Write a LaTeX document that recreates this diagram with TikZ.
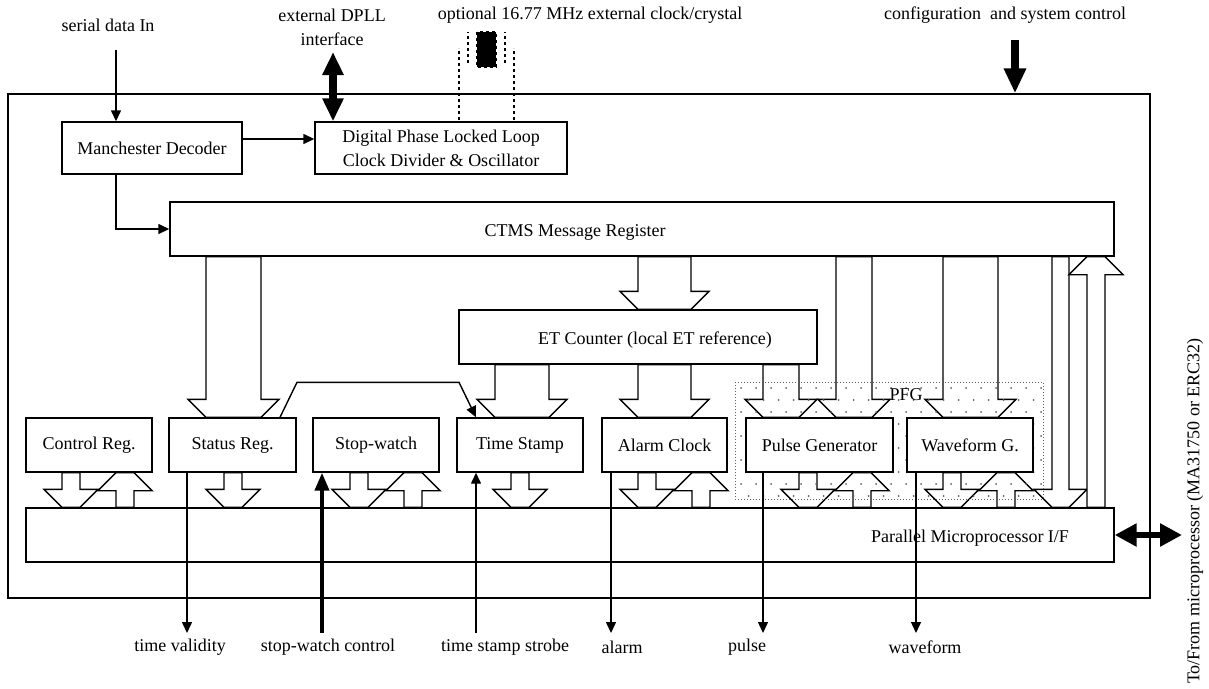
\documentclass[tikz,border=0pt]{standalone}
\usepackage{fontspec}
\setmainfont{Liberation Serif}
\usetikzlibrary{arrows.meta, positioning, calc, backgrounds}
\definecolor{pfggray}{RGB}{95,95,95}

% wide block arrow: left x, right x, from, to (head at the "to" end)
\newcommand{\fatarrow}[4]{%
  \draw[fat] let \p1=(#3), \p2=(#4), \n1={ifthenelse(\y2<\y1,-18,18)} in
    ({#1pt},\y1) -- ({#1pt},{\y2-(\n1)}) -- ({#1pt-18pt},{\y2-(\n1)}) -- ({#1pt},\y2)
    -- ({#2pt},\y2) -- ({#2pt+18pt},{\y2-(\n1)}) -- ({#2pt},{\y2-(\n1)}) -- ({#2pt},\y1) -- cycle;}

\begin{document}
\begin{tikzpicture}[x=1pt, y=-1pt, line width=1.4pt,
    font=\fontsize{18}{24}\selectfont,
    blk/.style={draw, fill=white, inner sep=0pt, minimum height=54pt},
    fat/.style={draw=black, fill=white, line width=1.4pt, line join=miter},
    sig/.style={-{Triangle[length=11pt,width=10pt]}},
    bigsig/.style={line width=4pt, -{Triangle[length=18pt,width=14pt]}},
    bus/.style={line width=8pt, {Triangle[length=23pt,width=20pt]}-{Triangle[length=23pt,width=20pt]}},
    xtal/.style={dash pattern=on 3pt off 3pt}]
    \useasboundingbox (0,0) rectangle (1209,688);

    % Chip outline
    \node[draw, inner sep=0pt, minimum width=1142pt, minimum height=504pt] (chip) at (579,346) {};

    % Outside texts
    \node (sertxt) at (108,25) {serial data In};
    \node[align=center] (dplltxt) at (332,27) {external DPLL\\interface};
    \node (xtaltxt) at (590,15) {optional 16.77 MHz external clock/crystal};
    \node (cfgtxt) at (1005,15) {configuration~ and system control};

    % Blocks
    \node[blk, minimum width=180pt, minimum height=52pt] (man) at (152,148) {Manchester Decoder};
    \node[blk, minimum width=252pt, minimum height=52pt, align=center] (dpll) at (441,148) {Digital Phase Locked Loop\\Clock Divider \& Oscillator};
    \node[blk, minimum width=944pt] (ctms) at (642,229) {};
    \node (ctmstxt) at (575,232) {CTMS Message Register};
    \node[blk, minimum width=358pt] (etc) at (638,337) {};
    \node (etctxt) at (655,340) {ET Counter (local ET reference)};
    \node[blk, minimum width=126pt] (ctrl) at (89,445) {Control Reg.};
    \node[blk, minimum width=127pt] (status) at (232.5,445) {Status Reg.};
    \node[blk, minimum width=126pt] (stopw) at (376,445) {Stop-watch};
    \node[blk, minimum width=126pt] (tstamp) at (520,445) {Time Stamp};
    \node[blk, minimum width=125pt] (alarm) at (664.5,445) {Alarm Clock};
    \node[blk, minimum width=147pt] (pulse) at (819.5,445) {Pulse Generator};
    \node[blk, minimum width=126pt] (wave) at (970,445) {Waveform G.};
    \node[blk, minimum width=1088pt] (pif) at (570,535) {};
    \node (piftxt) at (970,538) {Parallel Microprocessor I/F};

    \begin{scope}[on background layer]
    % Block arrows between the registers
    \fatarrow{206}{261}{ctms.south}{status.north}
    \fatarrow{638}{691}{ctms.south}{etc.north}
    \fatarrow{495}{549}{etc.south}{tstamp.north}
    \fatarrow{638}{691}{etc.south}{alarm.north}
    \fatarrow{763}{799}{etc.south}{pulse.north}
    \fatarrow{836}{872}{ctms.south}{pulse.north}
    \fatarrow{943}{998}{ctms.south}{wave.north}
    \fatarrow{1052}{1069}{ctms.south}{pif.north}
    \fatarrow{1087}{1105}{pif.north}{ctms.south}

    % Block arrows to/from the processor interface
    \fatarrow{62}{80}{ctrl.south}{pif.north}
    \fatarrow{116}{134}{pif.north}{ctrl.south}
    \fatarrow{224}{242}{status.south}{pif.north}
    \fatarrow{350}{368}{stopw.south}{pif.north}
    \fatarrow{404}{422}{pif.north}{stopw.south}
    \fatarrow{511}{529}{tstamp.south}{pif.north}
    \fatarrow{638}{656}{alarm.south}{pif.north}
    \fatarrow{692}{710}{pif.north}{alarm.south}
    \fatarrow{799}{817}{pulse.south}{pif.north}
    \fatarrow{853}{871}{pif.north}{pulse.south}
    \fatarrow{943}{961}{wave.south}{pif.north}
    \fatarrow{997}{1015}{pif.north}{wave.south}

    % PFG area
    \begin{scope}
      \clip (735,382) rectangle (1043,499);
      \foreach \r in {0,...,9}
        \foreach \c in {0,...,21}
          \fill[pfggray] ({741+15*\c+7.5*mod(\r,2)},{388+12*\r}) circle (1pt);
    \end{scope}
    \draw[pfggray, line width=1pt, dash pattern=on 1pt off 2pt] (735,382) rectangle (1043,499);
    \end{scope}
    \node (pfgtxt) at (906,395) {PFG};

    % Crystal
    \draw[xtal] (459,120) -- (459,48);
    \draw[xtal] (514,120) -- (514,48);
    \draw[xtal] (468,63) -- (468,32);
    \draw[xtal] (505,63) -- (505,32);
    \draw[xtal, fill=black] (477,32) rectangle (496,67);

    % Signals
    \coordinate (serin) at (116,50);
    \draw[sig] (serin) -- (serin |- man.north);
    \draw[sig] ([yshift=9pt]man.east) -- ([yshift=9pt]man.east -| dpll.west);
    \draw[sig] ([xshift=-36pt]man.south) |- (ctms.west);
    \coordinate (dpllio) at (333,52);
    \draw[bus] (dpllio) -- (dpllio |- dpll.north);
    \coordinate (cfgin) at (1015,40);
    \draw[line width=8pt, -{Triangle[length=25pt,width=21pt]}] (cfgin) -- (cfgin |- chip.north);
    \coordinate (upif) at (1182,535);
    \draw[line width=6pt, {Triangle[length=22pt,width=22pt]}-{Triangle[length=22pt,width=22pt]}] (pif.east) -- (upif);
    \draw[sig] ([xshift=47.5pt]status.north) -- ++(17,-35) -- ++(162,0) -- ([xshift=-44pt]tstamp.north);

    \coordinate (tvout) at (187,633);
    \coordinate (swin) at (322,633);
    \coordinate (tsin) at (476,633);
    \coordinate (alout) at (611,633);
    \coordinate (puout) at (763,633);
    \coordinate (wfout) at (916,633);
    \draw[sig] (tvout |- status.south) -- (tvout);
    \draw[bigsig] (swin) -- (swin |- stopw.south);
    \draw[sig] (tsin) -- (tsin |- tstamp.south);
    \draw[sig] (alout |- alarm.south) -- (alout);
    \draw[sig] (puout |- pulse.south) -- (puout);
    \draw[sig] (wfout |- wave.south) -- (wfout);

    % Bottom texts
    \node (tvtxt) at (180,647) {time validity};
    \node (swtxt) at (328,647) {stop-watch control};
    \node (tstxt) at (505,647) {time stamp strobe};
    \node (altxt) at (622,647) {alarm};
    \node (putxt) at (747,647) {pulse};
    \node (wftxt) at (925,647) {waveform};
    \node[rotate=90] (uptxt) at (1195,511) {To/From microprocessor (MA31750 or ERC32)};
\end{tikzpicture}
\end{document}
